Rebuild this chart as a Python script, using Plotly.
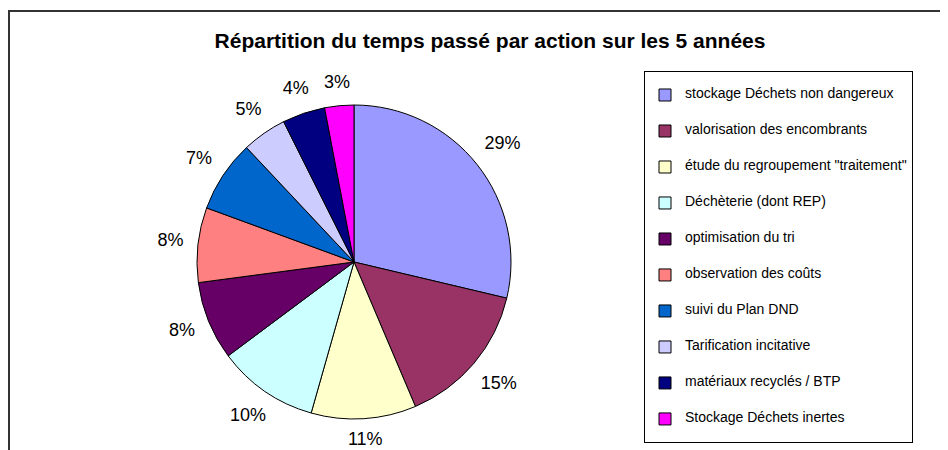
import math
import plotly.graph_objects as go

categories = [
    "stockage Déchets non dangereux",
    "valorisation des encombrants",
    'étude du regroupement "traitement"',
    "Déchèterie (dont REP)",
    "optimisation du tri",
    "observation des coûts",
    "suivi du Plan DND",
    "Tarification incitative",
    "matériaux recyclés / BTP",
    "Stockage Déchets inertes",
]
values = [28.7, 14.9, 10.8, 10.4, 8.1, 7.7, 7.4, 4.6, 4.4, 3.0]
colors = ["#9999FF", "#993366", "#FFFFCC", "#CCFFFF", "#660066",
          "#FF8080", "#0066CC", "#CCCCFF", "#000080", "#FF00FF"]
title_text = "Répartition du temps passé par action sur les 5 années"

W, H = 948, 450
FONT = "Arial, 'Liberation Sans', sans-serif"
LABEL_SIZE = 18

# pie geometry (figure pixels)
CX, CY, R = 346, 254, 157
GAP = 14  # gap between rim and label box

total = sum(values)
mid_angles, label_r, pct_text = [], [], []
acc = 0.0
for v in values:
    ang = 360.0 * (acc + v / 2) / total
    acc += v
    txt = "%d%%" % round(100 * v / total)
    w = LABEL_SIZE * (0.556 * (len(txt) - 1) + 0.889)
    h = LABEL_SIZE * 0.78
    ext = abs(math.sin(math.radians(ang))) * w / 2 + abs(math.cos(math.radians(ang))) * h / 2
    mid_angles.append(ang)
    label_r.append(1 + (GAP + ext) / R)
    pct_text.append(txt)

legend_labels = ["<br><span style='font-size:14px'>%s</span><br>" % c for c in categories]

fig = go.Figure()
fig.add_trace(go.Pie(
    labels=legend_labels,
    values=values,
    sort=False,
    direction="clockwise",
    rotation=0,
    marker=dict(colors=colors, line=dict(color="black", width=1)),
    textinfo="none",
    hoverinfo="skip",
    domain=dict(x=[(CX - R) / W, (CX + R) / W], y=[(H - CY - R) / H, (H - CY + R) / H]),
))

half = H - CY  # largest half-size that keeps the polar domain inside the paper
fig.add_trace(go.Scatterpolar(
    r=label_r,
    theta=mid_angles,
    mode="text",
    text=pct_text,
    textposition="middle center",
    textfont=dict(family=FONT, size=LABEL_SIZE, color="black"),
    hoverinfo="skip",
    showlegend=False,
    cliponaxis=False,
))

fig.update_layout(
    width=W, height=H,
    margin=dict(l=0, r=0, t=0, b=0),
    paper_bgcolor="white",
    plot_bgcolor="white",
    font=dict(family=FONT, color="black"),
    title=dict(text="<b>" + title_text + "</b>", x=482 / W, xanchor="center",
               y=(H - 33) / H, yanchor="middle",
               font=dict(family=FONT, size=21, color="black")),
    polar=dict(
        domain=dict(x=[(CX - half) / W, (CX + half) / W], y=[0, 2 * half / H]),
        bgcolor="rgba(0,0,0,0)",
        radialaxis=dict(visible=False, range=[0, half / R]),
        angularaxis=dict(visible=False, rotation=90, direction="clockwise"),
    ),
    showlegend=True,
    legend=dict(
        x=636 / W, xanchor="left", y=(H - 63) / H, yanchor="top",
        bgcolor="white", bordercolor="black", borderwidth=1,
        font=dict(family=FONT, size=8.46, color="black"),
        valign="middle",
        traceorder="normal",
    ),
    shapes=[
        dict(type="rect", xref="paper", yref="paper", x0=1 / W, x1=1.02,
             y0=-0.02, y1=(H - 3) / H, fillcolor="rgba(0,0,0,0)",
             line=dict(color="#333333", width=2), layer="below"),
    ],
)

fig.write_html("out.html")
